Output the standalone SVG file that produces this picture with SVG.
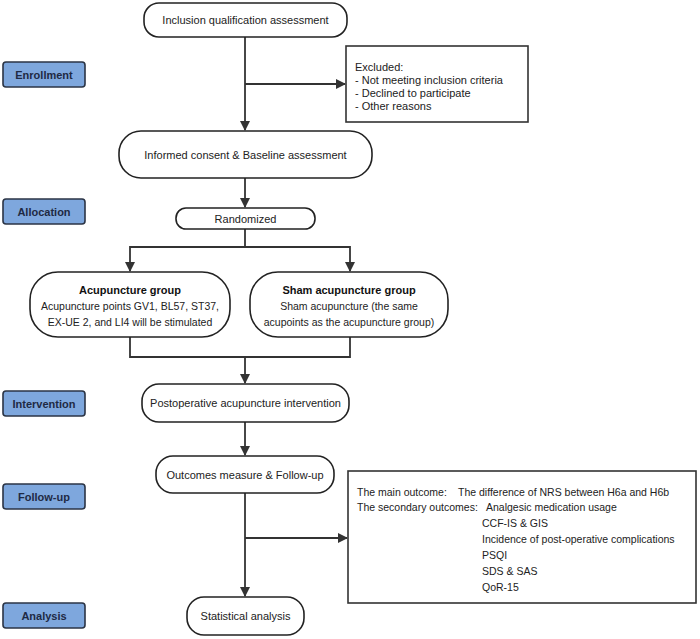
<svg xmlns="http://www.w3.org/2000/svg" width="700" height="639" viewBox="0 0 700 639">
<defs>
<marker id="ah" markerWidth="10" markerHeight="10" refX="9" refY="5" orient="auto" markerUnits="userSpaceOnUse">
<path d="M0,0 L10,5 L0,10 Z" fill="#333"/>
</marker>
<style>
.node{fill:#fff;stroke:#222;stroke-width:1.6}
.box{fill:#fff;stroke:#333;stroke-width:1.6}
.lab{fill:#7ea7dd;stroke:#2b3445;stroke-width:1.6}
.lt{font-family:"Liberation Sans",Arial,sans-serif;font-size:11px;font-weight:bold;fill:#1e2a44;text-anchor:middle}
.t{font-family:"Liberation Sans",Arial,sans-serif;font-size:11px;fill:#222;text-anchor:middle}
.g{font-family:"Liberation Sans",Arial,sans-serif;font-size:10.5px;fill:#222;text-anchor:middle}
.tb{font-family:"Liberation Sans",Arial,sans-serif;font-size:11px;font-weight:bold;fill:#111;text-anchor:middle}
.tl{font-family:"Liberation Sans",Arial,sans-serif;font-size:10.5px;fill:#222}
.ex{font-family:"Liberation Sans",Arial,sans-serif;font-size:11px;fill:#222}
.c{fill:none;stroke:#333;stroke-width:1.8}
</style>
</defs>
<g id="labels">
<g id="lab-enrollment"><rect class="lab" x="3" y="62" width="82" height="25" rx="3"/><text class="lt" x="44" y="78.5">Enrollment</text></g>
<g id="lab-allocation"><rect class="lab" x="3" y="199" width="82" height="25" rx="3"/><text class="lt" x="44" y="215.5">Allocation</text></g>
<g id="lab-intervention"><rect class="lab" x="3" y="391" width="82" height="25" rx="3"/><text class="lt" x="44" y="407.5">Intervention</text></g>
<g id="lab-followup"><rect class="lab" x="3" y="484" width="82" height="25" rx="3"/><text class="lt" x="44" y="500.5">Follow-up</text></g>
<g id="lab-analysis"><rect class="lab" x="3" y="603" width="82" height="25" rx="3"/><text class="lt" x="44" y="619.5">Analysis</text></g>
</g>
<g id="connectors">
<line class="c" x1="245" y1="37" x2="245" y2="130" marker-end="url(#ah)"/>
<line class="c" x1="245" y1="84" x2="345" y2="84" marker-end="url(#ah)"/>
<line class="c" x1="245" y1="178" x2="245" y2="207" marker-end="url(#ah)"/>
<polyline class="c" points="245,229 245,247 130,247 130,271" marker-end="url(#ah)"/>
<polyline class="c" points="245,247 350,247 350,271" marker-end="url(#ah)"/>
<polyline class="c" points="130,337 130,357 350,357 350,337"/>
<line class="c" x1="245" y1="357" x2="245" y2="383" marker-end="url(#ah)"/>
<line class="c" x1="245" y1="422" x2="245" y2="455" marker-end="url(#ah)"/>
<line class="c" x1="245" y1="493" x2="245" y2="596" marker-end="url(#ah)"/>
<line class="c" x1="245" y1="538" x2="347" y2="538" marker-end="url(#ah)"/>
</g>
<g id="n-inclusion"><rect class="node" x="144" y="3" width="203" height="34" rx="15"/><text class="t" x="245.5" y="24">Inclusion qualification assessment</text></g>
<g id="n-excluded"><rect class="box" x="346" y="46" width="182" height="76"/>
<text class="ex" x="355" y="70.5">Excluded:</text>
<text class="ex" x="355" y="83.5">- Not meeting inclusion criteria</text>
<text class="ex" x="355" y="96.5">- Declined to participate</text>
<text class="ex" x="355" y="109.5">- Other reasons</text></g>
<g id="n-consent"><rect class="node" x="119" y="131" width="253" height="47" rx="22"/><text class="t" x="245.5" y="159">Informed consent &amp; Baseline assessment</text></g>
<g id="n-random"><rect class="node" x="176" y="208" width="139" height="21" rx="10"/><text class="t" x="245.5" y="222.5">Randomized</text></g>
<g id="n-acu"><rect class="node" x="30" y="272" width="200" height="65" rx="28"/>
<text class="tb" x="130" y="294">Acupuncture group</text>
<text class="g" x="130" y="310">Acupuncture points GV1, BL57, ST37,</text>
<text class="g" x="130" y="326">EX-UE 2, and LI4 will be stimulated</text></g>
<g id="n-sham"><rect class="node" x="250" y="272" width="198" height="65" rx="28"/>
<text class="tb" x="349" y="294">Sham acupuncture group</text>
<text class="g" x="349" y="310">Sham acupuncture (the same</text>
<text class="g" x="349" y="326">acupoints as the acupuncture group)</text></g>
<g id="n-postop"><rect class="node" x="142" y="384" width="207" height="38" rx="17"/><text class="t" x="245.5" y="407">Postoperative acupuncture intervention</text></g>
<g id="n-outcomes"><rect class="node" x="156" y="456" width="178" height="37" rx="17"/><text class="t" x="245" y="479">Outcomes measure &amp; Follow-up</text></g>
<g id="n-outbox"><rect class="box" x="348" y="471" width="348" height="132"/>
<text class="tl" x="357" y="495.5">The main outcome:</text>
<text class="tl" x="458" y="495.5">The difference of NRS between H6a and H6b</text>
<text class="tl" x="357" y="511">The secondary outcomes:</text>
<text class="tl" x="486" y="511">Analgesic medication usage</text>
<text class="tl" x="482" y="527">CCF-IS &amp; GIS</text>
<text class="tl" x="482" y="543">Incidence of post-operative complications</text>
<text class="tl" x="482" y="559">PSQI</text>
<text class="tl" x="482" y="575">SDS &amp; SAS</text>
<text class="tl" x="482" y="591">QoR-15</text></g>
<g id="n-stat"><rect class="node" x="187" y="597" width="117" height="38" rx="17"/><text class="t" x="245.5" y="620">Statistical analysis</text></g>
</svg>
